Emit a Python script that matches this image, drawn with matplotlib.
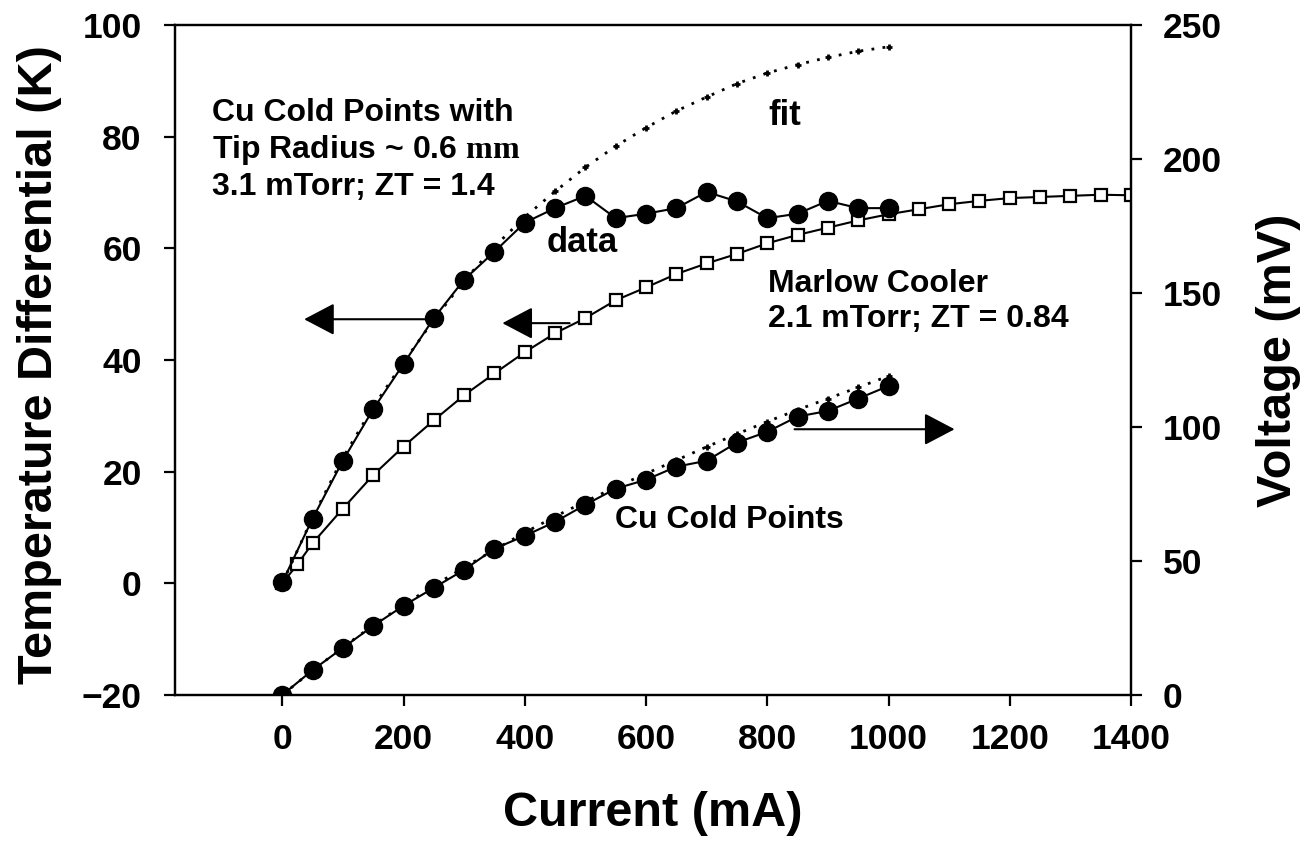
import matplotlib
matplotlib.use("Agg")
import matplotlib.pyplot as plt

plt.rcParams['font.family'] = ['Liberation Sans', 'DejaVu Sans']
plt.rcParams['font.weight'] = 'bold'
plt.rcParams['mathtext.fontset'] = 'custom'
plt.rcParams['mathtext.rm'] = 'Liberation Serif'
plt.rcParams['axes.unicode_minus'] = True

# ---------------- data ----------------
current_cu = [0, 50, 100, 150, 200, 250, 300, 350, 400, 450, 500,
              550, 600, 650, 700, 750, 800, 850, 900, 950, 1000]
dT_cu_data = [0.2, 11.6, 22.0, 31.2, 39.3, 47.5, 54.4, 59.4, 64.6, 67.2, 69.4,
              65.4, 66.2, 67.2, 70.1, 68.4, 65.4, 66.2, 68.5, 67.2, 67.2]
dT_cu_fit = [0.0, 11.8, 22.5, 31.6, 39.6, 47.2, 54.2, 60.3, 65.6, 70.2, 74.5,
             78.3, 81.6, 84.6, 87.1, 89.5, 91.4, 92.9, 94.2, 95.3, 96.1]
V_cu_data = [0.0, 9.3, 17.6, 25.8, 33.3, 40.0, 46.7, 54.6, 59.4, 64.6, 71.0,
             77.0, 80.3, 85.2, 87.4, 94.2, 98.2, 103.9, 106.0, 110.6, 115.3]
V_cu_fit = [0.0, 9.2, 17.8, 26.0, 33.6, 40.8, 47.6, 54.2, 60.6, 66.6, 72.2,
            77.6, 82.6, 87.6, 92.6, 97.4, 102.0, 106.4, 110.6, 114.8, 119.0]

current_marlow = [0, 25, 50, 100, 150, 200, 250, 300, 350, 400, 450, 500,
                  550, 600, 650, 700, 750, 800, 850, 900, 950, 1000,
                  1050, 1100, 1150, 1200, 1250, 1300, 1350, 1400]
dT_marlow = [0.0, 3.4, 7.2, 13.4, 19.4, 24.5, 29.2, 33.7, 37.6, 41.4, 44.8, 47.5,
             50.7, 53.0, 55.4, 57.3, 59.0, 60.9, 62.4, 63.7, 65.0, 66.1,
             67.0, 67.9, 68.5, 69.0, 69.2, 69.4, 69.6, 69.5]

x_ticks = [0, 200, 400, 600, 800, 1000, 1200, 1400]
yl_ticks = [-20, 0, 20, 40, 60, 80, 100]
yr_ticks = [0, 50, 100, 150, 200, 250]

# ---------------- figure ----------------
W, H = 1305, 844
fig = plt.figure(figsize=(W / 100, H / 100), dpi=100)
ax = fig.add_axes([175 / W, 1 - 695 / H, (1131 - 175) / W, (695 - 25) / H])
ax2 = ax.twinx()

lw = 1.5
# Marlow cooler (left axis)
ax.plot(current_marlow, dT_marlow, '-', color='black', lw=lw, marker='s',
        ms=8, mfc='white', mec='black', mew=1.6, zorder=3)
# Cu cold points fit (left axis)
ax.plot(current_cu, dT_cu_fit, linestyle=(0, (1, 3)), color='black', lw=2,
        marker='+', ms=5, mew=2, zorder=4)
# Cu cold points data (left axis)
ax.plot(current_cu, dT_cu_data, '-', color='black', lw=lw, marker='o',
        ms=13, mfc='black', mec='black', zorder=5)

# Voltage (right axis)
ax2.plot(current_cu, V_cu_fit, linestyle=(0, (1, 3)), color='black', lw=2,
         marker='+', ms=5, mew=2, zorder=4)
ax2.plot(current_cu, V_cu_data, '-', color='black', lw=lw, marker='o',
         ms=13, mfc='black', mec='black', zorder=5)

ax.set_xlim(-177, 1400)
ax.set_ylim(-20, 100)
ax2.set_ylim(0, 250)
ax.set_xticks(x_ticks)
ax.set_yticks(yl_ticks)
ax2.set_yticks(yr_ticks)

for a in (ax, ax2):
    for s in a.spines.values():
        s.set_linewidth(1.6)
ax.tick_params(axis='both', direction='out', length=8, width=1.6,
               labelsize=25.5)
ax.tick_params(axis='y', pad=16)
ax.tick_params(axis='x', pad=12)
ax2.tick_params(axis='y', direction='out', length=8, width=1.6,
                labelsize=25.5, pad=15)
for lab in ax.get_xticklabels() + ax.get_yticklabels() + ax2.get_yticklabels():
    lab.set_fontweight('bold')

# axis labels
fig.text(0.5 * (175 + 1131) / W, 1 - 826 / H, 'Current (mA)', ha='center',
         va='baseline', fontsize=35, fontweight='bold')
fig.text(52 / W, 1 - 365 / H, 'Temperature Differential (K)', rotation=90,
         rotation_mode='anchor', ha='center', va='baseline', fontsize=35,
         fontweight='bold')
fig.text(1291 / W, 1 - 360 / H, 'Voltage (mV)', rotation=90,
         rotation_mode='anchor', ha='center', va='baseline', fontsize=35,
         fontweight='bold')

# annotations
def ftext(x, y, s, size):
    fig.text(x / W, 1 - y / H, s, ha='left', va='baseline', fontsize=size,
             fontweight='bold')

ftext(212, 121, 'Cu Cold Points with', 23)
ftext(212, 158, r'Tip Radius ~ 0.6 $\mathrm{mm}$', 23)
ftext(212, 195, '3.1 mTorr; ZT = 1.4', 23)
ftext(768, 125, 'fit', 25)
ftext(547, 252, 'data', 25)
ftext(768, 292, 'Marlow Cooler', 23)
ftext(768, 327, '2.1 mTorr; ZT = 0.84', 23)
ftext(615, 528, 'Cu Cold Points', 23)

# arrows
aprops = dict(arrowstyle='-|>,head_length=0.95,head_width=0.5',
              mutation_scale=20, lw=1.5, color='black',
              shrinkA=0, shrinkB=0)
ax.annotate('', xy=(36, 47.3), xytext=(250, 47.3), arrowprops=aprops, zorder=6)
ax.annotate('', xy=(363, 46.6), xytext=(474, 46.6), arrowprops=aprops, zorder=6)
ax.annotate('', xy=(1109, 27.6), xytext=(845, 27.6), arrowprops=aprops, zorder=6)

fig.savefig('out.png', dpi=100)
